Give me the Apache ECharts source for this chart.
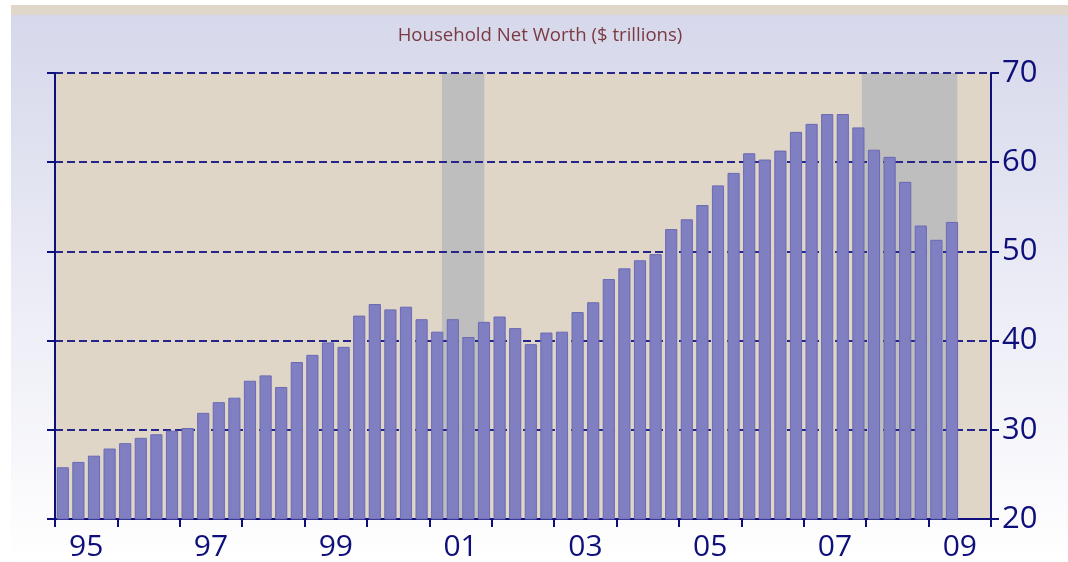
<!DOCTYPE html>
<html>
<head>
<meta charset="utf-8">
<script src="https://cdn.jsdelivr.net/npm/echarts@6/dist/echarts.min.js"></script>
<style>
  html, body { margin: 0; padding: 0; background: #fff; }
  #chart { width: 1068px; height: 562px; }
</style>
</head>
<body>
<div id="chart"></div>
<script>
// quarters 1995Q1 .. 2009Q4
var quarters = [
  '95Q1','95Q2','95Q3','95Q4','96Q1','96Q2','96Q3','96Q4',
  '97Q1','97Q2','97Q3','97Q4','98Q1','98Q2','98Q3','98Q4',
  '99Q1','99Q2','99Q3','99Q4','00Q1','00Q2','00Q3','00Q4',
  '01Q1','01Q2','01Q3','01Q4','02Q1','02Q2','02Q3','02Q4',
  '03Q1','03Q2','03Q3','03Q4','04Q1','04Q2','04Q3','04Q4',
  '05Q1','05Q2','05Q3','05Q4','06Q1','06Q2','06Q3','06Q4',
  '07Q1','07Q2','07Q3','07Q4','08Q1','08Q2','08Q3','08Q4',
  '09Q1','09Q2','09Q3','09Q4'
];
var years = ['95','96','97','98','99','00','01','02','03','04','05','06','07','08','09'];

// household net worth, $ trillions
var netWorth = [
  25.8, 26.4, 27.1, 27.9, 28.5, 29.1, 29.5, 29.9,
  30.2, 31.9, 33.1, 33.6, 35.5, 36.1, 34.8, 37.6,
  38.4, 39.8, 39.3, 42.8, 44.1, 43.5, 43.8, 42.4,
  41.0, 42.4, 40.4, 42.1, 42.7, 41.4, 39.6, 40.9,
  41.0, 43.2, 44.3, 46.9, 48.1, 49.0, 49.7, 52.5,
  53.6, 55.2, 57.4, 58.8, 61.0, 60.3, 61.3, 63.4,
  64.3, 65.4, 65.4, 63.9, 61.4, 60.6, 57.8, 52.9,
  51.3, 53.3
];

// recession periods (in decimal years)
var recessionStart = [2001.2, 2007.93];
var recessionEnd = [2001.88, 2009.46];

var yTicks = [20, 30, 40, 50, 60, 70];

var navy = '#0f0f7c';
var myChart = echarts.init(document.getElementById('chart'));

var option = {
  backgroundColor: '#ffffff',
  animation: false,
  graphic: [
    {
      type: 'rect', z: -10, silent: true,
      shape: { x: 11, y: 15, width: 1057, height: 547 },
      style: {
        fill: new echarts.graphic.LinearGradient(0, 0, 0, 1, [
          { offset: 0, color: '#d6d8eb' },
          { offset: 1, color: '#ffffff' }
        ])
      }
    },
    {
      type: 'rect', z: -10, silent: true,
      shape: { x: 11, y: 5, width: 1057, height: 10 },
      style: { fill: '#e0d7ca' }
    }
  ],
  title: {
    text: 'Household Net Worth ($ trillions)',
    left: 535,
    textAlign: 'center',
    top: 21,
    textStyle: {
      color: '#7a3a42',
      fontFamily: 'Open Sans',
      fontWeight: 'normal',
      fontSize: 18.6
    }
  },
  grid: {
    left: 55,
    right: 77,
    top: 73,
    bottom: 41,
    show: true,
    backgroundColor: '#dfd6c8',
    borderWidth: 0
  },
  xAxis: [
    {
      type: 'category',
      data: quarters,
      show: false
    },
    {
      type: 'category',
      data: years,
      position: 'bottom',
      z: 3,
      axisLine: { lineStyle: { color: navy, width: 2 } },
      axisTick: { show: true, interval: 0, length: 8, lineStyle: { color: navy, width: 2 } },
      axisLabel: {
        interval: 1,
        color: navy,
        fontFamily: 'Open Sans',
        fontSize: 30,
        margin: 13
      },
      splitLine: { show: false }
    },
    {
      type: 'value',
      min: 1995,
      max: 2010,
      show: false
    }
  ],
  yAxis: [
    {
      type: 'value',
      position: 'right',
      min: 20,
      max: 70,
      interval: 10,
      z: 3,
      axisLine: { show: true, lineStyle: { color: navy, width: 2 } },
      axisTick: { show: true, length: 8, lineStyle: { color: navy, width: 2 } },
      axisLabel: {
        color: navy,
        fontFamily: 'Open Sans',
        fontSize: 31,
        margin: 11,
        formatter: function (v) { return yTicks.indexOf(v) >= 0 ? v : ''; }
      },
      splitLine: {
        show: true,
        lineStyle: { color: '#26268a', width: 2, type: [8, 4] }
      }
    },
    {
      type: 'value',
      position: 'left',
      min: 20,
      max: 70,
      interval: 10,
      z: 3,
      axisLine: { show: true, lineStyle: { color: navy, width: 2 } },
      axisTick: { show: true, length: 8, lineStyle: { color: navy, width: 2 } },
      axisLabel: { show: false },
      splitLine: { show: false }
    }
  ],
  series: [
    {
      // recession shading
      type: 'custom',
      xAxisIndex: 2,
      yAxisIndex: 0,
      z: 1,
      silent: true,
      data: recessionStart.map(function (s, i) { return [s, recessionEnd[i]]; }),
      renderItem: function (params, api) {
        var cs = params.coordSys;
        var x1 = api.coord([api.value(0), 20])[0];
        var x2 = api.coord([api.value(1), 20])[0];
        return {
          type: 'rect',
          shape: { x: x1, y: cs.y, width: x2 - x1, height: cs.height },
          style: { fill: '#bebebe' }
        };
      }
    },
    {
      name: 'Household Net Worth',
      type: 'bar',
      xAxisIndex: 0,
      yAxisIndex: 0,
      z: 5,
      barCategoryGap: '22%',
      itemStyle: {
        color: '#7f7fc1',
        borderColor: '#6a6ab4',
        borderWidth: 1
      },
      data: netWorth
    }
  ]
};
myChart.setOption(option);
</script>
</body>
</html>
